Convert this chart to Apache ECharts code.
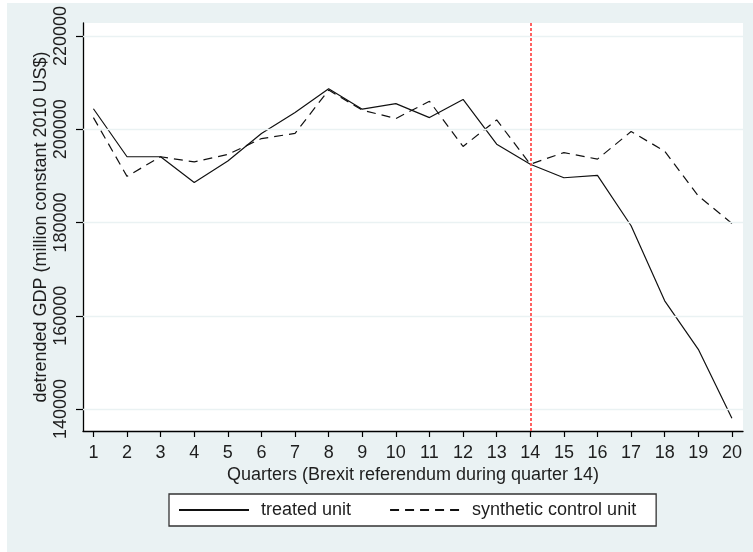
<!DOCTYPE html>
<html>
<head>
<meta charset="utf-8">
<script src="https://cdn.jsdelivr.net/npm/echarts@6/dist/echarts.min.js"></script>
<style>
html,body{margin:0;padding:0;background:#fff;}
#chart{width:753px;height:552px;}
</style>
</head>
<body>
<div id="chart"></div>
<script>
const quarters = [1,2,3,4,5,6,7,8,9,10,11,12,13,14,15,16,17,18,19,20];
const treated = [204400,194100,194100,188600,193200,199100,203600,208700,204300,205500,202500,206400,196800,192500,189600,190100,179300,163200,152800,138000];
const synthetic = [202500,189900,194100,193000,194600,198000,199100,208400,204100,202300,206000,196300,202000,192500,195000,193600,199500,195300,185700,179800];
const yTicks = [140000,160000,180000,200000,220000];
const referendumQuarter = 14;

const FONT = '"Liberation Sans", Arial, sans-serif';
const TXT = '#1e1e1e';
const chart = echarts.init(document.getElementById('chart'), null, {renderer:'canvas'});

const pairs = a => quarters.map((q,i)=>[q,a[i]]);

chart.setOption({
  animation:false,
  backgroundColor:'#ffffff',
  graphic:[{type:'rect', z:-100, silent:true, shape:{x:7,y:3,width:746,height:549}, style:{fill:'#EAF2F3'}}],
  grid:{left:83, top:23, right:10, bottom:121, show:true, backgroundColor:'#ffffff', borderWidth:0},
  xAxis:{
    type:'value', min:0.69, max:20.33,
    name:'Quarters (Brexit referendum during quarter 14)',
    nameLocation:'middle', nameGap:35, nameMoveOverlap:false,
    nameTextStyle:{fontFamily:FONT, fontSize:18, color:TXT},
    axisLine:{show:true, onZero:false, lineStyle:{color:'#000', width:1.3}},
    axisTick:{show:true, length:6, customValues:quarters, lineStyle:{color:'#000', width:1.2}},
    axisLabel:{customValues:quarters, fontFamily:FONT, fontSize:18, color:TXT, margin:13},
    splitLine:{show:false}
  },
  yAxis:{
    type:'value', min:135282, max:222788,
    name:'detrended GDP (million constant 2010 US$)',
    nameLocation:'middle', nameGap:33, nameRotate:90, nameMoveOverlap:false,
    nameTextStyle:{fontFamily:FONT, fontSize:18, color:TXT},
    axisLine:{show:true, onZero:false, lineStyle:{color:'#000', width:1.3}},
    axisTick:{show:true, length:7, customValues:yTicks, lineStyle:{color:'#000', width:1.2}},
    axisLabel:{customValues:yTicks, rotate:90, fontFamily:FONT, fontSize:18, color:TXT, margin:13,
      formatter: v => String(v)},
    splitLine:{show:false}
  },
  legend:{
    data:['treated unit','synthetic control unit'],
    left:169, top:494,
    padding:[7,20,7,9],
    itemWidth:70, itemHeight:18, itemGap:38,
    itemStyle:{opacity:0},
    backgroundColor:'#ffffff', borderColor:'#333333', borderWidth:1.3,
    textStyle:{fontFamily:FONT, fontSize:18, color:TXT, padding:[0,0,0,7]}
  },
  series:[
    {
      name:'grid', type:'line', data:[], silent:true, z:1,
      markLine:{silent:true, symbol:['none','none'], label:{show:false},
        lineStyle:{color:'#EAF2F3', width:1.3, type:'solid'},
        data: yTicks.map(v=>({yAxis:v}))}
    },
    {
      name:'treated unit', type:'line', data:pairs(treated), symbol:'none', z:3,
      lineStyle:{color:'#111', width:1.2, type:'solid'}, itemStyle:{color:'#111'},
      markLine:{silent:true, symbol:['none','none'], label:{show:false},
        lineStyle:{color:'#FF3B3B', width:1.6, type:[3,2]},
        data:[{xAxis:referendumQuarter}]}
    },
    {
      name:'synthetic control unit', type:'line', data:pairs(synthetic), symbol:'none', z:3,
      lineStyle:{color:'#111', width:1.2, type:[9,6]}, itemStyle:{color:'#111'}
    }
  ]
});
</script>
</body>
</html>
